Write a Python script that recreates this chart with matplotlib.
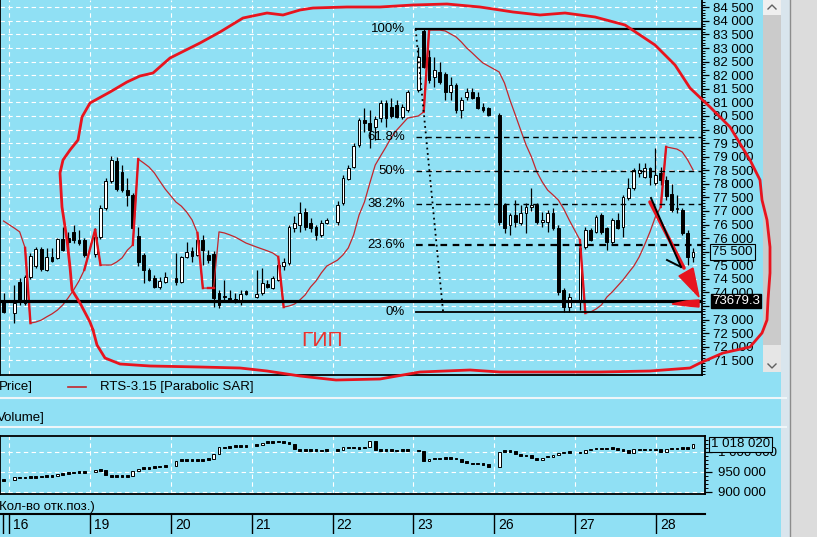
import numpy as np
import matplotlib
matplotlib.use('Agg')
import matplotlib.pyplot as plt
from matplotlib.patches import Rectangle, Polygon
from matplotlib.ticker import MultipleLocator, FuncFormatter

plt.rcParams['font.family'] = ['Liberation Sans', 'DejaVu Sans']

W, H = 817, 537
BG = '#90e0f4'
SAR_RED = '#c4262c'
PEN_RED = '#e8141e'

# ---- data (hourly candles RTS-3.15) ----
days = [13, 16, 19, 20, 21, 22, 23, 26, 27, 28]
bars_per_day = [1, 14, 14, 14, 14, 14, 14, 14, 15, 7]
first_slot = [13, 0, 0, 0, 0, 0, 0, 0, 0, 0]

opens = [73650,
         73240, 74380, 73610, 74570, 74970, 75600, 74830, 75310, 75270, 75970, 76000, 76230, 75930, 75930,
         75420, 76040, 77110, 78100, 78840, 78440, 77770, 77590, 76080, 75380, 74830, 74530, 74200, 74380,
         74530, 74380, 75310, 75530, 75380, 75930, 75380, 75420, 73980, 73870, 73800, 73760, 73720, 74050,
         73830, 73980, 74310, 74160, 74460, 74970, 75080, 76370, 76480, 76960, 76560, 76410, 76120, 76560,
         76590, 77290, 78180, 78620, 79430, 80350, 80240, 80090, 80420, 80980, 80830, 80900, 80460, 80720,
         81460, 83620, 82670, 81930, 82120, 82050, 81380, 81640, 80720, 81200, 81380, 81200, 80830, 80790,
         80540, 77220, 76480, 76850, 76560, 76930, 77150, 77220, 76590, 76590, 76930, 76370, 74090, 73460,
         73720, 75670, 76300, 76230, 76850, 76370, 75860, 76670, 76410, 77480, 77850, 78400, 78250, 78580, 78030,
         78400, 78140, 77630, 77070, 77040, 76190, 75310]
highs = [73980,
         74270, 74530, 74640, 75450, 75670, 75670, 75640, 75640, 76000, 76410, 76230, 76480, 76300, 76000,
         76370, 77220, 78210, 79030, 78990, 78690, 78210, 77660, 76410, 75450, 74900, 74640, 74570, 74750,
         75450, 75340, 75860, 75670, 76000, 76120, 75560, 75530, 74090, 74460, 74090, 73980, 74090, 74090,
         74830, 74900, 74460, 74610, 75120, 75270, 76480, 76820, 77330, 77110, 76740, 76480, 76670, 76740,
         77370, 78330, 78690, 79500, 80420, 80790, 80720, 80500, 81090, 81090, 81160, 81090, 80940, 81460,
         83040, 83700, 82930, 82670, 82490, 82120, 81930, 81710, 81200, 81530, 81530, 81380, 80980, 80830,
         80610, 77290, 76930, 77400, 77220, 77290, 77850, 77290, 76960, 77040, 77110, 76480, 74160, 73980,
         75750, 76410, 76370, 76850, 76930, 76410, 76740, 76930, 77590, 78210, 78580, 78770, 78770, 78620, 79320,
         78620, 78290, 77990, 77590, 77110, 76300, 75640]
lows = [73240,
        72870, 73540, 73540, 74490, 74900, 74790, 74790, 75120, 75230, 75530, 75560, 75820, 75750, 75310,
        75310, 75970, 77040, 78030, 77740, 77700, 77180, 76340, 74970, 74350, 74420, 74160, 74130, 74350,
        74270, 74350, 75270, 75120, 75340, 75010, 75080, 73460, 73430, 73720, 73650, 73610, 73540, 73910,
        73800, 73910, 74160, 74130, 74420, 74830, 75010, 76230, 76230, 76300, 76230, 75930, 76040, 76520,
        76480, 77220, 78140, 78580, 79360, 79910, 79320, 79610, 80280, 80090, 80420, 80420, 80390, 80650,
        81380, 82270, 81710, 81570, 81680, 81090, 81090, 80610, 80420, 81090, 81120, 80760, 80650, 80500,
        76480, 76190, 76120, 76410, 76480, 76190, 77000, 76520, 76410, 76230, 76300, 73910, 73280, 73280,
        73350, 75600, 75890, 76190, 76150, 75560, 75750, 76340, 76040, 77400, 77770, 78250, 78210, 77960, 77960,
        77960, 77400, 76960, 76930, 76120, 75010, 75120]
closes = [73280,
          73610, 73650, 74570, 75340, 75600, 74860, 75310, 75160, 75970, 75560, 75860, 75930, 75820, 75380,
          76040, 77110, 78100, 78880, 77810, 77770, 77590, 76370, 75120, 74830, 74460, 74200, 74420, 74570,
          74380, 75310, 75490, 75340, 75930, 75560, 75190, 73800, 73540, 73830, 73720, 73650, 73940, 73940,
          73940, 74350, 74200, 74530, 75010, 75120, 76410, 76560, 76930, 76410, 76370, 76120, 76560, 76670,
          77220, 78210, 78580, 79390, 80350, 80240, 79980, 80390, 80980, 80420, 80500, 80460, 80830, 81380,
          82670, 82300, 81820, 82190, 81750, 81380, 81640, 80720, 81090, 81380, 81160, 80790, 80720, 80540,
          76590, 76370, 76850, 76590, 76930, 77150, 77220, 76590, 76670, 76930, 76370, 74020, 73460, 73830,
          75640, 76300, 75930, 76780, 76230, 75860, 76670, 76370, 77510, 77850, 78510, 78510, 78580, 78250, 78330,
          78140, 77550, 77040, 77110, 76190, 75310, 75500]
sar = [76630,
       76370, 76230, 75640, 72870, 72910, 72980, 73100, 73210, 73350, 73540, 73800, 74090, 74420, 74830,
       76300, 75010, 75010, 75010, 75120, 75270, 75560, 75750, 78910, 78770, 78620, 78400, 78100, 77810,
       77330, 77180, 76960, 76670, 76190, 74160, 74160, 74160, 76230, 76190, 76120, 76040, 75930, 75820,
       75670, 75600, 75530, 75450, 75310, 73460, 73500, 73570, 73720, 73910, 74200, 74420, 74720, 74970,
       75190, 75380, 75640, 76120, 76850, 77330, 78030, 78690, 79030, 79360, 79720, 79980, 80200, 80420,
       80500, 80650, 83660, 83660, 83660, 83630, 83520, 83410, 83220, 83000, 82820, 82630, 82450, 82340,
       82120, 81710, 81090, 80540, 79980, 79430, 78990, 78440, 78070, 77770, 77590, 77400, 77070, 76670,
       75930, 73240, 73280, 73390, 73540, 73830, 74020, 74240, 74460, 74720, 74970, 75310, 75750, 76230, 76780,
       77150, 79360, 79320, 79280, 79170, 78880, 78510]
# open positions (lower panel)
open_int = [929000,
            936000, 936000, 936000, 937000, 937000, 938000, 939000, 940000, 944000, 945000, 947000, 948000, 950000, 949000,
            954000, 955000, 941000, 939000, 939000, 939000, 940000, 952000, 958000, 959000, 960000, 962000, 963000, 964000,
            977000, 979000, 979000, 979000, 980000, 980000, 982000, 995000, 1011000, 1011000, 1012000, 1014000, 1014000, 1015000,
            1017000, 1022000, 1025000, 1025000, 1026000, 1024000, 1020000, 1006000, 1004000, 1004000, 1004000, 1004000, 1003000, 1004000,
            1004000, 1011000, 1011000, 1011000, 1010000, 1011000, 1027000, 1004000, 1004000, 1004000, 1004000, 1003000, 1004000, 1004000,
            1003000, 977000, 982000, 983000, 983000, 984000, 984000, 983000, 975000, 974000, 971000, 971000, 970000, 962000,
            1000000, 1002000, 1002000, 995000, 992000, 991000, 984000, 979000, 985000, 988000, 992000, 996000, 1000000, 1000000,
            996000, 1004000, 1008000, 1008000, 1008000, 1008000, 1009000, 1004000, 1004000, 997000, 1006000, 1006000, 1006000, 1006000, 1006000,
            1000000, 1007000, 1008000, 1008000, 1009000, 1010000, 1018020]

support_level = 73679.3
fib_high, fib_low = 83700, 73280
fib_start, fib_end = 74.5, 79.6
fib_levels = [0.0, 23.6, 38.2, 50.0, 61.8, 100.0]
fib_labels = ['0%', '23.6%', '38.2%', '50%', '61.8%', '100%']


def spaced(v):
    return f'{int(round(v)):,}'.replace(',', ' ')


def frame(x0, y0, x1, y1):
    return [x0 / W, 1 - y1 / H, (x1 - x0) / W, (y1 - y0) / H]


# 15 hourly slots per session, bars placed by slot
pos = []
for d, (n, s0) in enumerate(zip(bars_per_day, first_slot)):
    pos += [15 * (d - 1) + s0 + j for j in range(n)]
pos = np.array(pos, dtype=float)
day_start = [15 * (d - 1) - 0.93 for d in range(1, len(days))]

SLOT_PX = 5.387
x_left = -14.3 / SLOT_PX


def x_right(width_px):
    return (width_px - 14.3) / SLOT_PX


fig = plt.figure(figsize=(W / 100, H / 100), dpi=100, facecolor=BG)

# background layer: scrollbar, side strip, captions
bg = fig.add_axes([0, 0, 1, 1], facecolor=BG)
bg.set_xlim(0, W)
bg.set_ylim(H, 0)
bg.axis('off')
bg.add_patch(Rectangle((763, 0), 18, 372, fc='#cbcbcb', ec='none'))
bg.add_patch(Rectangle((763, 0), 18, 15, fc='#efefef', ec='none'))
bg.add_patch(Rectangle((763, 345), 18, 27, fc='#e6e6e6', ec='none'))
bg.plot([768, 772, 776], [9, 5, 9], color='#606060', lw=1)
bg.plot([768, 772, 776], [364, 368, 364], color='#606060', lw=1)
bg.add_patch(Rectangle((781, 0), 9, H, fc='#d9e5ed', ec='none'))
bg.add_patch(Rectangle((791, 0), 26, H, fc='#dcdcdc', ec='none'))
bg.plot([790.5, 790.5], [0, H], color='#8c8c8c', lw=1)
for yy in (398, 427):
    bg.plot([0, 786], [yy, yy], color='#eef6f9', lw=1.5)
bg.text(-1, 387, 'Price]', fontsize=9.5, va='center', ha='left')
bg.plot([68, 86], [387, 387], color=SAR_RED, lw=1.2)
bg.text(100, 387, 'RTS-3.15 [Parabolic SAR]', fontsize=9.5, va='center', ha='left')
bg.text(-3, 418, 'Volume]', fontsize=9.5, va='center', ha='left')
bg.text(-1, 507, 'Кол-во отк.поз.)', fontsize=9.5, va='center', ha='left')

# ---- price panel ----
ax = fig.add_axes(frame(0, 0, 702, 375), facecolor=BG)
ax.set_xlim(x_left, x_right(702))
ax.set_ylim(84770 - 36.83 * 375, 84770)
ax.set_yticks(np.arange(71500, 84501, 500))
ax.yaxis.set_minor_locator(MultipleLocator(100))
ax.grid(axis='y', which='major', color='white', lw=0.8, ls=(0, (4, 3)))
for s in day_start:
    ax.axvline(s, color='white', lw=0.8, ls=(0, (4, 3)), zorder=1)

hidden = [closes[-1], support_level]
ax.yaxis.tick_right()
ax.yaxis.set_major_formatter(FuncFormatter(
    lambda v, _: '' if min(abs(v - h) for h in hidden) < 250 else spaced(v)))
ax.tick_params(axis='y', which='major', length=5, width=0.9, pad=3, labelsize=9.5)
ax.tick_params(axis='y', which='minor', length=2.5, width=0.7)
ax.tick_params(axis='x', which='both', bottom=False, labelbottom=False)
ax.spines['top'].set_visible(False)
for side in ('left', 'right', 'bottom'):
    ax.spines[side].set_linewidth(1.3)

bw = 0.52
for x, o, h, l, c in zip(pos, opens, highs, lows, closes):
    ax.vlines(x, l, h, color='black', lw=0.9, zorder=3)
    lo = min(o, c)
    hgt = max(abs(c - o), 40)
    ax.add_patch(Rectangle((x - bw / 2, lo), bw, hgt, fc='white' if c > o else 'black',
                           ec='black', lw=0.7, zorder=3.5))

# parabolic SAR drawn as a line, flips thicker
ax.plot(pos, sar, color=SAR_RED, lw=0.9, zorder=4)
above = np.array(sar) > np.array(closes)
for i in range(1, len(pos)):
    if above[i] != above[i - 1]:
        ax.plot(pos[i - 1:i + 1], sar[i - 1:i + 1], color='#e0121c', lw=1.7, zorder=4)

ax.axhline(support_level, color='black', lw=2.3, zorder=5)

# fibonacci retracement
x_end = ax.get_xlim()[1]
for lvl, lab in zip(fib_levels, fib_labels):
    y = fib_low + (fib_high - fib_low) * lvl / 100
    if lvl in (0.0, 100.0):
        ax.plot([fib_start, x_end], [y, y], color='black', lw=1.6 if lvl else 1.3, zorder=5)
    else:
        ax.plot([fib_start, x_end], [y, y], color='black', lw=1.6 if lvl == 23.6 else 1.0,
                ls=(0, (3, 2.5)) if lvl == 23.6 else (0, (4, 3)), zorder=5)
    ax.text(fib_start - 2.0, y, lab, ha='right', va='center', fontsize=9.5, zorder=6)
ax.plot([fib_start, fib_end], [fib_high, fib_low], color='black', lw=1.3, ls=(0, (1, 2)), zorder=5)

ytr = ax.get_yaxis_transform()
ax.text(1.0145, closes[-1], spaced(closes[-1]), transform=ytr, ha='left', va='center',
        fontsize=9.5, clip_on=False, zorder=6,
        bbox=dict(boxstyle='square,pad=0.15', fc='none', ec='black', lw=0.8))
ax.text(1.0145, support_level, f'{support_level:.1f}', transform=ytr, ha='left', va='center',
        fontsize=9.5, color='white', clip_on=False, zorder=6,
        bbox=dict(boxstyle='square,pad=0.1', fc='black', ec='black'))

# ---- open interest panel ----
av = fig.add_axes(frame(0, 436, 705, 494), facecolor=BG)
av.set_xlim(x_left, x_right(705))
av.set_ylim(894250, 1039250)
av.set_yticks([900000, 950000, 1000000])
av.yaxis.set_minor_locator(MultipleLocator(10000))
av.grid(axis='y', which='major', color='white', lw=0.8, ls=(0, (4, 3)))
for s in day_start:
    av.axvline(s, color='white', lw=0.8, ls=(0, (4, 3)), zorder=1)
av.yaxis.tick_right()
av.yaxis.set_major_formatter(FuncFormatter(lambda v, _: spaced(v)))
av.tick_params(axis='y', which='major', length=5, width=0.9, pad=4, labelsize=9.5)
av.tick_params(axis='y', which='minor', length=2.5, width=0.7)
av.tick_params(axis='x', which='both', bottom=False, labelbottom=False)
for side in av.spines:
    av.spines[side].set_linewidth(1.3)

oi_open = [open_int[0]] + open_int[:-1]
for x, o, c in zip(pos, oi_open, open_int):
    if abs(c - o) < 4000:
        lo, hgt = c - 2000, 4000
    else:
        lo, hgt = min(o, c), abs(c - o)
    av.add_patch(Rectangle((x - bw / 2, lo), bw, hgt, fc='white' if c - o >= 4000 else 'black',
                           ec='black', lw=0.7, zorder=3))
av.text(1.0085, open_int[-1], spaced(open_int[-1]), transform=av.get_yaxis_transform(),
        ha='left', va='center', fontsize=9.5, clip_on=False, zorder=6,
        bbox=dict(boxstyle='square,pad=0.15', fc=BG, ec='black', lw=0.8))

# ---- date strip ----
adate = fig.add_axes(frame(0, 514, 705, 534), facecolor=BG)
adate.set_xlim(av.get_xlim())
adate.set_ylim(0, 1)
adate.axis('off')
adate.axhline(1, color='black', lw=1.5, clip_on=False)
adate.axvline(x_left + 0.5, color='black', lw=1)
for s, d in zip(day_start, days[1:]):
    adate.axvline(s, color='black', lw=1)
    adate.text(s + 0.75, 0.45, str(d), ha='left', va='center', fontsize=10)

# ---- hand-drawn marks on top ----
ov = fig.add_axes([0, 0, 1, 1], facecolor='none')
ov.set_xlim(0, W)
ov.set_ylim(H, 0)
ov.axis('off')
loop_x = [93, 90, 80, 72, 70, 67, 62, 60, 63, 70, 78, 82, 90, 110, 127, 140, 153, 170, 200, 220,
          243, 267, 283, 300, 313, 347, 380, 413, 447, 480, 513, 540, 565, 595, 625, 655, 675, 690,
          710, 730, 750, 760, 762, 767, 770, 770, 768, 767, 762, 750, 723, 700, 690, 650, 600, 550,
          500, 470, 420, 380, 336, 300, 267, 240, 200, 150, 120, 105, 97, 93]
loop_y = [330, 322, 303, 290, 267, 240, 207, 173, 160, 150, 140, 117, 103, 92, 82, 76, 73, 58, 43, 32,
          18, 13, 15, 10, 8, 7, 7, 5, 4, 7, 12, 15, 13, 17, 25, 45, 65, 88,
          107, 127, 160, 180, 200, 220, 247, 273, 300, 320, 333, 347, 353, 363, 368, 371, 372, 372,
          372, 370, 372, 379, 380, 376, 371, 368, 367, 366, 364, 358, 345, 330]
ov.plot(loop_x, loop_y, color=PEN_RED, lw=2.0, solid_joinstyle='round', solid_capstyle='round')
ov.text(322, 341, 'ГИП', color='#e8322e', fontsize=15, ha='center', va='center')

ov.plot([650, 684], [202, 268], color=PEN_RED, lw=2.6, solid_capstyle='round')
ov.add_patch(Polygon([[693, 268], [699, 297], [679, 276]], closed=True, fc=PEN_RED, ec=PEN_RED))
ov.plot([651, 681], [198, 267], color='black', lw=1.4)
ov.plot([667, 681], [260, 267], color='black', lw=1.4)
ov.add_patch(Polygon([[672, 304], [686, 301], [699, 300], [699, 307], [688, 306]], closed=True,
                     fc=PEN_RED, ec=PEN_RED))

fig.savefig('out.png', dpi=100, facecolor=BG)
